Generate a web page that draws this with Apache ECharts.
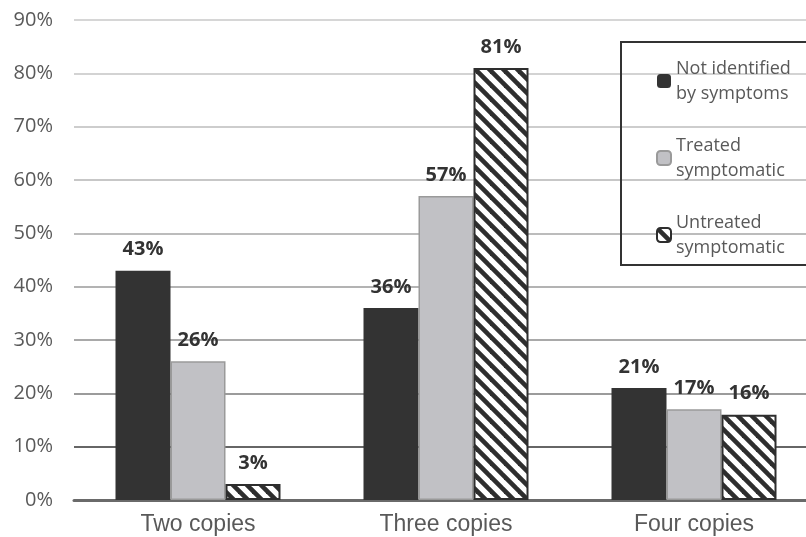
<!DOCTYPE html>
<html>
<head>
<meta charset="utf-8">
<script src="https://cdn.jsdelivr.net/npm/echarts@6/dist/echarts.min.js"></script>
<style>html,body{margin:0;padding:0;background:#fff;overflow:hidden;width:806px;height:537px;}#c{width:818px;height:537px;}</style>
</head>
<body>
<div id="c"></div>
<script>
const categories = ['Two copies', 'Three copies', 'Four copies'];
const seriesNames = ['Not identified\nby symptoms', 'Treated\nsymptomatic', 'Untreated\nsymptomatic'];
const notIdentified = [43, 36, 21];
const treated = [26, 57, 17];
const untreated = [3, 81, 16];
const yTicks = [0, 10, 20, 30, 40, 50, 60, 70, 80, 90];

function hatch() {
  const s = 14;
  const c = document.createElement('canvas');
  c.width = s; c.height = s;
  const g = c.getContext('2d');
  g.fillStyle = '#fff';
  g.fillRect(0, 0, s, s);
  g.strokeStyle = '#2e2e2e';
  g.lineWidth = 4.6;
  for (const k of [-s, 0, s]) {
    g.beginPath();
    g.moveTo(k - 2, -2);
    g.lineTo(k + s + 2, s + 2);
    g.stroke();
  }
  return c;
}

const chart = echarts.init(document.getElementById('c'));
const labelCfg = {
  show: true, position: 'top', distance: 11,
  formatter: p => p.value + '%',
  color: '#333', fontWeight: 'bold', fontSize: 20, fontFamily: 'Open Sans'
};
chart.setOption({
  animation: false,
  grid: { left: 74, right: 0, top: 20, bottom: 37, containLabel: false },
  legend: {
    orient: 'vertical',
    left: 621, top: 42,
    padding: [14, 50, 5, 35],
    borderColor: '#333', borderWidth: 2,
    itemWidth: 14, itemHeight: 14, itemGap: 27,
    textStyle: { fontSize: 18, lineHeight: 25, color: '#595959', fontFamily: 'Open Sans' },
    data: seriesNames
  },
  xAxis: {
    type: 'category', data: categories,
    axisLine: { lineStyle: { color: '#6a6a6a', width: 3 } },
    axisTick: { show: false },
    axisLabel: { fontSize: 23, color: '#595959', fontFamily: 'Liberation Sans', margin: 13 }
  },
  yAxis: {
    type: 'value', min: 0, max: 90, interval: 10,
    axisLine: { show: false }, axisTick: { show: false },
    axisLabel: { formatter: v => yTicks.includes(v) ? v + '%' : '', fontSize: 20, color: '#595959', fontFamily: 'Open Sans', margin: 21 },
    splitLine: { lineStyle: { width: 1.5, color: ['#6a6a6a', '#333333', '#7a7a7a', '#8c8c8c', '#9a9a9a', '#a6a6a6', '#b4b4b4', '#bdbdbd', '#c4c4c4', '#c8c8c8'] } }
  },
  series: [
    { name: seriesNames[0], type: 'bar', data: notIdentified, barWidth: 55, barGap: '0%',
      itemStyle: { color: '#333333' }, label: labelCfg },
    { name: seriesNames[1], type: 'bar', data: treated, barWidth: 55, barGap: '0%',
      itemStyle: { color: '#c1c1c5', borderColor: '#9a9a9a', borderWidth: 1.5 }, label: labelCfg },
    { name: seriesNames[2], type: 'bar', data: untreated, barWidth: 55, barGap: '0%',
      itemStyle: { color: { image: hatch(), repeat: 'repeat' }, borderColor: '#2e2e2e', borderWidth: 2 }, label: labelCfg }
  ]
});
</script>
</body>
</html>
